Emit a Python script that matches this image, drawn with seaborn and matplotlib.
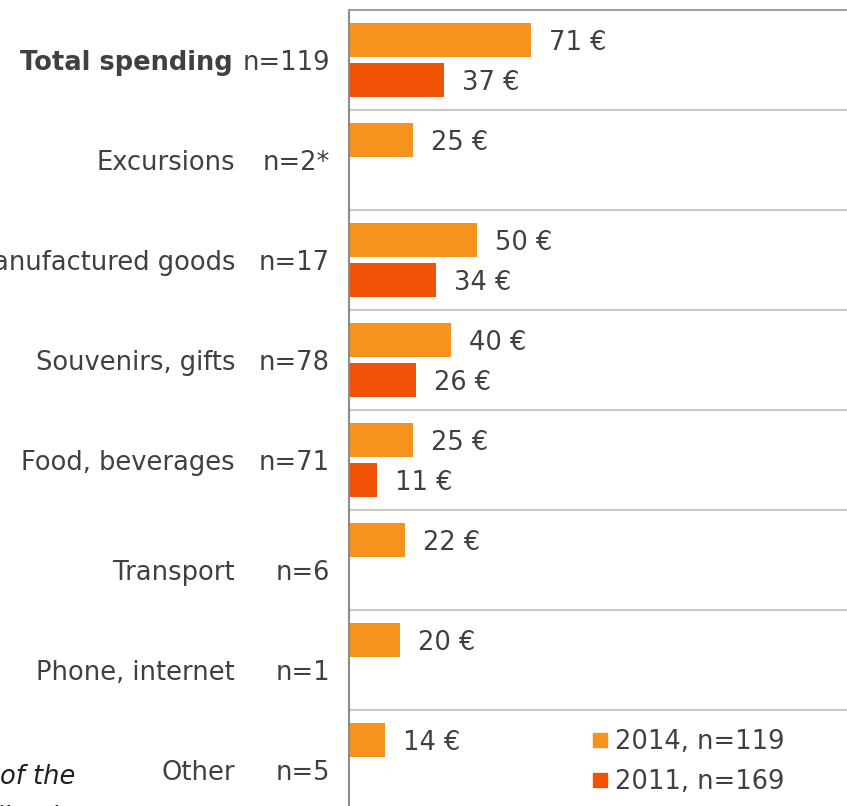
import matplotlib
matplotlib.use("Agg")
import matplotlib.pyplot as plt
import matplotlib.transforms as mtransforms
from matplotlib.lines import Line2D
import seaborn as sns
import pandas as pd

# Average spending per category (euros)
categories = ["Total spending", "Excursions", "Manufactured goods", "Souvenirs, gifts",
              "Food, beverages", "Transport", "Phone, internet", "Other"]
sample_sizes = ["n=119", "n=2*", "n=17", "n=78", "n=71", "n=6", "n=1", "n=5"]
spend_2014 = [71, 25, 50, 40, 25, 22, 20, 14]
spend_2011 = [37, None, 34, 26, 11, None, None, None]
series_labels = ["2014, n=119", "2011, n=169"]
colors = ["#F6921E", "#F05306"]
text_color = "#404040"

rows = []
for cat, v in zip(categories, spend_2014):
    rows.append({"category": cat, "year": series_labels[0], "value": v})
for cat, v in zip(categories, spend_2011):
    if v is not None:
        rows.append({"category": cat, "year": series_labels[1], "value": v})
df = pd.DataFrame(rows)

sns.set_theme(style="white")
plt.rcParams["font.family"] = ["DejaVu Sans"]

W, H = 847, 806
fig = plt.figure(figsize=(W / 100, H / 100), dpi=100)
ax = fig.add_axes([349 / W, (H - 810) / H, (W * 1.01 - 349) / W, 800 / H])

sns.barplot(data=df, y="category", x="value", hue="year", order=categories,
            hue_order=series_labels, palette=colors, orient="h",
            width=0.8, gap=0.16, ax=ax, legend=False, errorbar=None,
            saturation=1, linewidth=0)

ax.set_ylim(7.5, -0.5)
ax.set_xlim(0, (W * 1.01 - 349) / 2.56)
ax.set_xlabel("")
ax.set_ylabel("")
ax.set_xticks([])
ax.set_yticks([])

# separators between categories
for yb in [i + 0.5 for i in range(len(categories) - 1)]:
    ax.axhline(yb, color="#c8c8c8", lw=1.5, zorder=0)

for side in ["right", "bottom"]:
    ax.spines[side].set_visible(False)
ax.spines["left"].set_color("#8c8c8c")
ax.spines["left"].set_linewidth(1.5)
ax.spines["top"].set_color("#a0a0a0")
ax.spines["top"].set_linewidth(1.5)

fs = 18.5
for cont in ax.containers:
    for t in ax.bar_label(cont, fmt="%.0f €", padding=13, fontsize=fs, color=text_color):
        t.xyann = (13, -2.5)

# category and sample-size labels on the left
blend = mtransforms.blended_transform_factory(fig.transFigure, ax.transData)
y_shift = [0.03, 0.03, 0.03, 0.03, 0.03, 0.13, 0.13, 0.13]
for i, (cat, n) in enumerate(zip(categories, sample_sizes)):
    fig.text(235 / W if i else 233 / W, i + y_shift[i], cat, transform=blend,
             ha="right", va="center", fontsize=fs, color=text_color,
             fontweight="bold" if i == 0 else "normal")
    fig.text(330 / W, i + y_shift[i], n, transform=blend, ha="right",
             va="center", fontsize=fs, color=text_color)

handles = [Line2D([], [], marker="s", linestyle="none", markersize=10,
                  markerfacecolor=c, markeredgecolor=c) for c in colors]
fig.legend(handles, series_labels, loc="upper left",
           bbox_to_anchor=(574 / W, (H - 716) / H), frameon=False,
           fontsize=fs, labelcolor=text_color, handletextpad=0.1,
           labelspacing=0.55, handlelength=1.0, borderpad=0)

fig.text(75 / W, (H - 764) / H,
         "* Interpret with caution: share of the\nrespondents spending in",
         ha="right", va="top", fontsize=fs, style="italic", color="#202020",
         multialignment="right", linespacing=1.75)

fig.savefig("out.png", dpi=100)
